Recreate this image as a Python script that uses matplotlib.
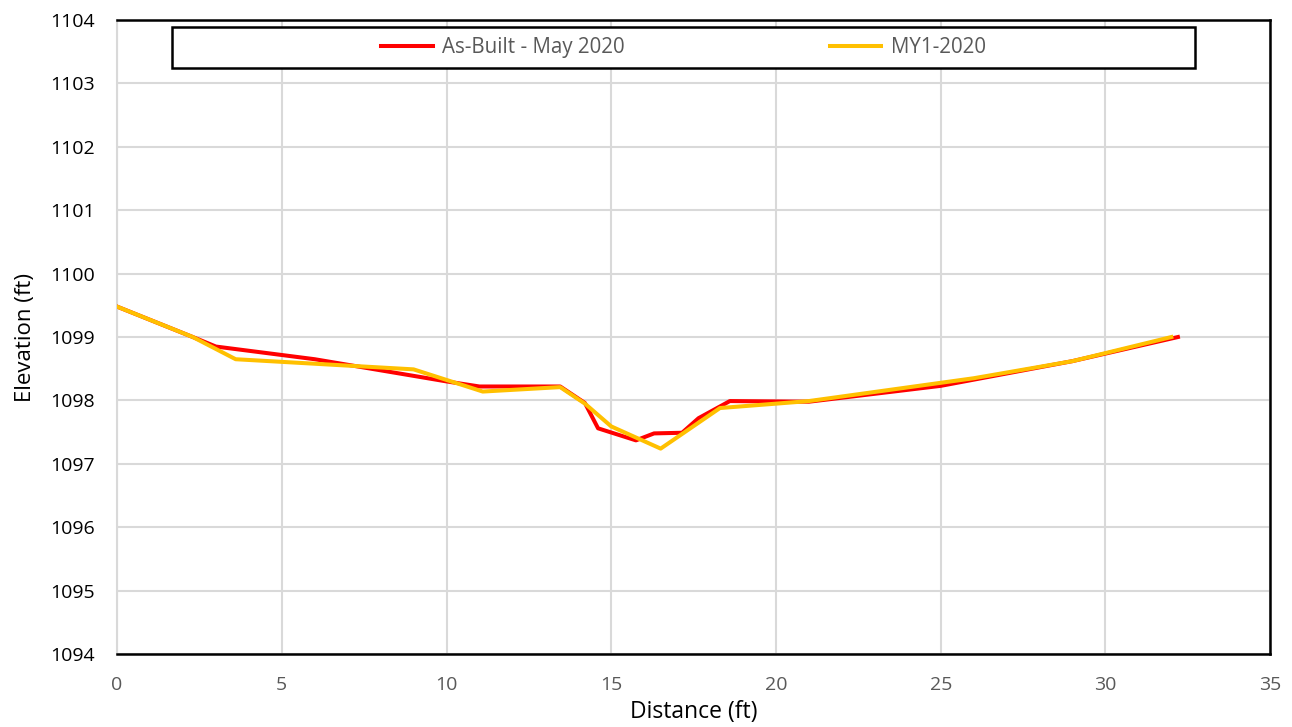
import matplotlib
matplotlib.use("Agg")
import matplotlib.pyplot as plt
from matplotlib.patches import Rectangle

# As-Built - May 2020
asbuilt_x = [0, 2.3, 3.0, 6.0, 10.0, 11.0, 13.45, 14.2, 14.6, 15.75, 16.3, 17.15, 17.65, 18.6, 21.0, 25.0, 29.0, 32.2]
asbuilt_y = [1099.48, 1099.0, 1098.85, 1098.65, 1098.3, 1098.22, 1098.22, 1097.96, 1097.56, 1097.37,
             1097.48, 1097.49, 1097.72, 1097.99, 1097.98, 1098.23, 1098.62, 1099.0]

# MY1-2020
my1_x = [0, 2.3, 3.6, 9.0, 11.1, 13.45, 14.2, 15.0, 16.5, 18.3, 21.0, 26.0, 29.0, 32.0]
my1_y = [1099.48, 1099.0, 1098.65, 1098.49, 1098.14, 1098.21, 1097.95, 1097.59, 1097.24, 1097.88,
         1097.99, 1098.35, 1098.62, 1099.0]

plt.rcParams['font.family'] = ['Open Sans', 'DejaVu Sans']

fig = plt.figure(figsize=(12.92, 7.27), dpi=100)
ax = fig.add_axes([0.0906, 0.1004, 0.8925, 0.872])

ax.plot(asbuilt_x, asbuilt_y, color='#ff0000', linewidth=2.9, label='As-Built - May 2020', zorder=3)
ax.plot(my1_x, my1_y, color='#ffc000', linewidth=2.9, label='MY1-2020', zorder=4)

ax.set_xlim(0, 35)
ax.set_ylim(1094, 1104)
ax.set_xticks(range(0, 36, 5))
ax.set_yticks(range(1094, 1105))
ax.grid(True, color='#d9d9d9', linewidth=1.5)
ax.set_axisbelow(True)
for side in ['top', 'right', 'bottom']:
    ax.spines[side].set_color('black')
    ax.spines[side].set_linewidth(1.8)
ax.spines['left'].set_color('#d9d9d9')
ax.spines['left'].set_linewidth(1.5)
ax.tick_params(axis='y', labelsize=14, length=0, pad=16, colors='black')
ax.tick_params(axis='x', labelsize=14, length=0, pad=16, labelcolor='#595959')
ax.set_xlabel('Distance (ft)', fontsize=16.5, labelpad=4)
ax.set_ylabel('Elevation (ft)', fontsize=16, labelpad=10)

# legend box
ax.add_patch(Rectangle((0.0477, 0.924), 0.887, 0.065, transform=ax.transAxes, fill=True,
                       facecolor='white', edgecolor='black', linewidth=1.8, zorder=5, clip_on=False))
leg = ax.legend(loc='center', bbox_to_anchor=(0.0477 + 0.887 / 2, 0.924 + 0.065 / 2), ncol=2,
                fontsize=14.8, frameon=False, handlelength=2.5, handletextpad=0.45,
                columnspacing=10.0, borderaxespad=0, labelcolor='#595959')
leg.set_zorder(6)

fig.savefig('out.png', dpi=100)
